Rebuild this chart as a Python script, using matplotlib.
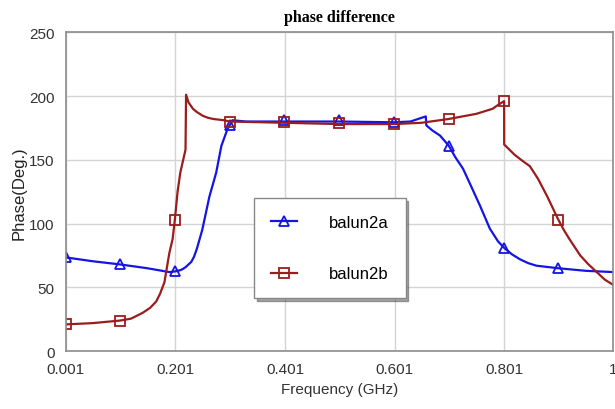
import matplotlib.pyplot as plt

# balun2a curve (blue)
freq_a = [0.001, 0.05, 0.1, 0.15, 0.19, 0.2, 0.21, 0.215, 0.22, 0.23, 0.235, 0.24,
          0.25, 0.263, 0.2755, 0.285, 0.296, 0.3, 0.305, 0.33, 0.4, 0.5, 0.6,
          0.63, 0.658, 0.659, 0.67, 0.684, 0.7, 0.712, 0.726, 0.74, 0.757, 0.775,
          0.79, 0.801, 0.815, 0.83, 0.845, 0.86, 0.9, 0.95, 1.0]
phase_a = [73.5, 70.5, 68, 65, 62, 62.5, 63.5, 64.5, 66, 70, 74, 80,
           95, 121, 140, 161, 174, 177, 181, 180, 180, 180, 179.4,
           180, 184, 177, 173, 169, 161, 152, 143, 130, 114, 96,
           86, 81, 76, 72, 69, 67, 65, 63, 62]

# balun2b curve (red)
freq_b = [0.001, 0.05, 0.1, 0.12, 0.141, 0.155, 0.166, 0.173, 0.181, 0.19, 0.196,
          0.2, 0.205, 0.21, 0.2195, 0.2205, 0.225, 0.233, 0.24, 0.251, 0.26, 0.27,
          0.29, 0.3, 0.4, 0.5, 0.6, 0.65, 0.7, 0.725, 0.75, 0.765, 0.78, 0.79,
          0.801, 0.8011, 0.82, 0.835, 0.848, 0.863, 0.88, 0.9, 0.91, 0.92, 0.94,
          0.955, 0.97, 0.985, 1.0]
phase_b = [21, 22, 24, 25.5, 30, 34, 39, 45, 54, 77, 88,
           103, 125, 140, 158, 201, 195, 190, 187.5, 184.5, 183, 182,
           181, 180, 179, 178, 178, 179, 182, 184, 186, 188, 190, 193,
           196, 162, 154, 149, 145, 135, 121, 103, 95, 88, 75,
           68, 62, 56, 52]

# marker points
mk_freq = [0.001, 0.1, 0.2, 0.3, 0.4, 0.5, 0.6, 0.7, 0.8, 0.9]
mk_a = [73.5, 68, 62.5, 177, 181, 181, 179.4, 161, 81, 65]
mk_b = [21, 24, 103, 180, 180, 179, 178, 182, 196, 103]

xticks = [0.001, 0.201, 0.401, 0.601, 0.801, 1.0]
xtick_labels = ['0.001', '0.201', '0.401', '0.601', '0.801', '1']
yticks = [0, 50, 100, 150, 200, 250]

blue = '#1414e6'
red = '#9b1c1c'

plt.rcParams['font.family'] = ['Liberation Sans', 'DejaVu Sans']

fig = plt.figure(figsize=(6.15, 4.1), dpi=100)
ax = fig.add_axes([0.107, 0.141, 0.89, 0.778])

la, = ax.plot(freq_a, phase_a, color=blue, lw=1.6)
ma, = ax.plot(mk_freq, mk_a, ls='none', marker='^', ms=7, mfc='none',
              mec=blue, mew=1.3)
lb, = ax.plot(freq_b, phase_b, color=red, lw=1.6)
mb, = ax.plot(mk_freq, mk_b, ls='none', marker='s', ms=7, mfc='none',
              mec=red, mew=1.3)

ax.set_xlim(0.001, 1.0)
ax.set_ylim(0, 250)
ax.set_xticks(xticks)
ax.set_xticklabels(xtick_labels)
ax.set_yticks(yticks)
ax.tick_params(length=0, labelsize=11, labelcolor='#333333', pad=8)
ax.grid(True, color='#d4d4d4', lw=1)
ax.set_axisbelow(True)
for s in ax.spines.values():
    s.set_color('#8c8c8c')
    s.set_linewidth(1.2)

ax.set_xlabel('Frequency (GHz)', fontsize=11, color='#333333', labelpad=4)
ax.set_ylabel('Phase(Deg.)', fontsize=12, color='#222222', labelpad=2)
ax.set_title('phase difference', fontsize=11.5, fontweight='bold',
             family='Liberation Serif', pad=8)

leg = ax.legend([(la, ma), (lb, mb)], ['balun2a', 'balun2b'],
                loc='upper left', bbox_to_anchor=(0.344, 0.48),
                fontsize=12, handlelength=1.6, handletextpad=1.9,
                labelspacing=2.2, borderpad=1.0, borderaxespad=0,
                frameon=True, fancybox=False, shadow=True)
leg.get_frame().set_edgecolor('#888888')
leg.get_frame().set_linewidth(1.0)

fig.savefig('out.png', dpi=100)
